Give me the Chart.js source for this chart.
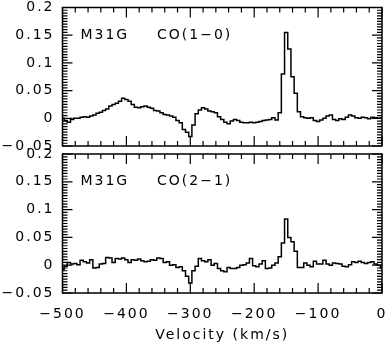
<!DOCTYPE html>
<html lang="en">
<head>
<meta charset="UTF-8" />
<title>M31G CO spectra</title>
<style>
  body { margin: 0; background: #fff; }
  .wrap { position: relative; width: 387px; height: 343px; overflow: hidden; }
  .wrap canvas { position: absolute; left: 0; }
  #topChart { top: 0; }
  #botChart { top: 140px; }
</style>
</head>
<body>
<div class="wrap">
  <canvas id="topChart" width="387" height="160"></canvas>
  <canvas id="botChart" width="387" height="206"></canvas>
</div>
<script src="https://cdn.jsdelivr.net/npm/chart.js"></script>
<script>
// channel grid (km/s)
const velStart = -500;
const velStep = 5;

// CO(1-0), one value per channel from -500 to 0 km/s
const co10 = [
  0.000, -0.004, -0.007, -0.002, 0.000, 0.000, 0.002, 0.003, 0.002, 0.004,
  0.006, 0.009, 0.011, 0.014, 0.017, 0.022, 0.025, 0.027, 0.031, 0.036,
  0.034, 0.031, 0.025, 0.020, 0.019, 0.021, 0.022, 0.020, 0.018, 0.014,
  0.013, 0.010, 0.007, 0.006, 0.004, 0.002, -0.004, -0.008, -0.020, -0.025,
  -0.033, -0.012, 0.008, 0.015, 0.019, 0.017, 0.013, 0.012, 0.010, 0.003,
  -0.002, -0.007, -0.010, -0.005, -0.002, -0.004, -0.007, -0.008, -0.008, -0.007,
  -0.008, -0.007, -0.006, -0.004, -0.003, -0.002, 0.001, -0.003, 0.010, 0.080,
  0.155, 0.125, 0.075, 0.045, 0.012, 0.003, 0.001, 0.000, 0.001, -0.004,
  -0.006, -0.003, 0.000, 0.004, 0.006, -0.002, -0.004, -0.001, -0.002, 0.002,
  0.006, 0.004, 0.001, 0.000, 0.002, 0.001, -0.001, 0.002, 0.001, 0.000,
  0.001
];

// CO(2-1), same channels
const co21 = [
  -0.008, -0.002, 0.005, 0.002, 0.003, 0.001, 0.009, 0.006, 0.004, 0.010,
  -0.005, -0.004, 0.002, 0.003, 0.014, 0.013, 0.005, 0.012, 0.011, 0.013,
  0.010, 0.005, 0.010, 0.009, 0.011, 0.008, 0.006, 0.007, 0.010, 0.009,
  0.013, 0.012, 0.005, 0.006, 0.000, 0.001, -0.004, -0.003, -0.010, -0.020,
  -0.032, -0.010, -0.002, 0.012, 0.008, 0.006, 0.010, 0.000, 0.003, -0.006,
  -0.010, -0.012, -0.004, -0.006, -0.006, -0.004, 0.000, 0.001, 0.004, 0.012,
  -0.001, -0.003, 0.002, 0.008, -0.006, -0.005, 0.000, 0.004, 0.015, 0.040,
  0.083, 0.050, 0.042, 0.025, -0.004, -0.004, 0.004, 0.000, -0.003, 0.007,
  0.002, 0.002, 0.009, 0.002, 0.000, 0.004, 0.003, 0.002, -0.002, -0.003,
  0.001, 0.006, 0.005, 0.007, 0.005, 0.003, 0.005, 0.006, 0.002, 0.000,
  -0.005
];

const xTicks = [-500, -400, -300, -200, -100, 0];
const yTicks = [-0.05, 0, 0.05, 0.1, 0.15, 0.2];
const xLabel = "Velocity (km/s)";
const source = "M31G";

const FONT_FAMILY = "DejaVu Sans";
const SPACING = "2px";

function fmt(v) {
  return String(Math.round(v * 1000) / 1000).replace("-", "\u2212");
}

function toPoints(vals) {
  return vals.map((t, i) => ({ x: velStart + velStep * i, y: t }));
}

// canvas letter spacing gets reset with the canvas, so set it each pass
const spacing = {
  id: "spacing",
  beforeUpdate(c) { c.ctx.letterSpacing = SPACING; },
  beforeDraw(c) { c.ctx.letterSpacing = SPACING; }
};

// box around the panel with inward ticks on all four sides
const frame = {
  id: "frame",
  afterDatasetsDraw(c) {
    const { ctx, chartArea: a, scales: { x, y } } = c;
    ctx.save();
    ctx.strokeStyle = "#000";
    ctx.lineWidth = 1.5;
    ctx.strokeRect(a.left, a.top, a.right - a.left, a.bottom - a.top);
    ctx.lineWidth = 1.2;
    ctx.beginPath();
    for (let k = 0; k <= 25; k++) {
      const px = x.getPixelForValue(-500 + 20 * k);
      const len = k % 5 === 0 ? 10 : 5;
      ctx.moveTo(px, a.bottom); ctx.lineTo(px, a.bottom - len);
      ctx.moveTo(px, a.top); ctx.lineTo(px, a.top + len);
    }
    for (let k = 0; k <= 50; k++) {
      const py = y.getPixelForValue(-0.05 + 0.005 * k);
      const len = k % 10 === 0 ? 10 : 5;
      ctx.moveTo(a.left, py); ctx.lineTo(a.left + len, py);
      ctx.moveTo(a.right, py); ctx.lineTo(a.right - len, py);
    }
    ctx.stroke();
    ctx.restore();
  }
};

const panelText = {
  id: "panelText",
  afterDraw(c, args, opts) {
    const { ctx, scales: { x, y } } = c;
    ctx.save();
    ctx.letterSpacing = SPACING;
    ctx.font = "14px '" + FONT_FAMILY + "'";
    ctx.fillStyle = "#000";
    ctx.textBaseline = "middle";
    ctx.textAlign = "left";
    ctx.fillText(source, x.getPixelForValue(-472), y.getPixelForValue(0.15));
    ctx.fillText(opts.line, x.getPixelForValue(-352), y.getPixelForValue(0.15));
    ctx.restore();
  }
};

function makeChart(id, values, line, bottom) {
  return new Chart(document.getElementById(id), {
    type: "line",
    data: {
      datasets: [{
        data: toPoints(values),
        borderColor: "#000",
        borderWidth: 1.5,
        pointRadius: 0,
        stepped: "middle",
        fill: false
      }]
    },
    options: {
      responsive: false,
      animation: false,
      events: [],
      layout: {
        padding: bottom
          ? { top: 14, right: 5, bottom: 0, left: 0 }
          : { top: 7.5, right: 5, bottom: 14, left: 0 }
      },
      plugins: {
        legend: { display: false },
        tooltip: { enabled: false },
        panelText: { line: line }
      },
      scales: {
        x: {
          type: "linear",
          min: -500,
          max: 0,
          display: bottom,
          afterBuildTicks: s => { s.ticks = xTicks.map(v => ({ value: v })); },
          afterFit: s => {
            s.height = bottom ? 53 : 0;
            s.paddingLeft = 0;
            s.paddingRight = 0;
          },
          grid: { display: false, drawTicks: false },
          border: { display: false },
          ticks: {
            color: "#000",
            padding: 13,
            maxRotation: 0,
            autoSkip: false,
            font: { family: FONT_FAMILY, size: 14 },
            callback: v => fmt(v)
          },
          title: {
            display: true,
            text: xLabel,
            color: "#000",
            padding: { top: 0, bottom: 2 },
            font: { family: FONT_FAMILY, size: 14 }
          }
        },
        y: {
          min: -0.05,
          max: 0.2,
          afterBuildTicks: s => { s.ticks = yTicks.map(v => ({ value: v })); },
          afterFit: s => { s.width = 62.5; s.paddingTop = 0; s.paddingBottom = 0; },
          grid: { display: false, drawTicks: false },
          border: { display: false },
          ticks: {
            color: "#000",
            padding: 8,
            autoSkip: false,
            font: { family: FONT_FAMILY, size: 14 },
            callback: v => fmt(v)
          }
        }
      }
    },
    plugins: [spacing, frame, panelText]
  });
}

makeChart("topChart", co10, "CO(1\u22120)", false);
makeChart("botChart", co21, "CO(2\u22121)", true);
</script>
</body>
</html>
